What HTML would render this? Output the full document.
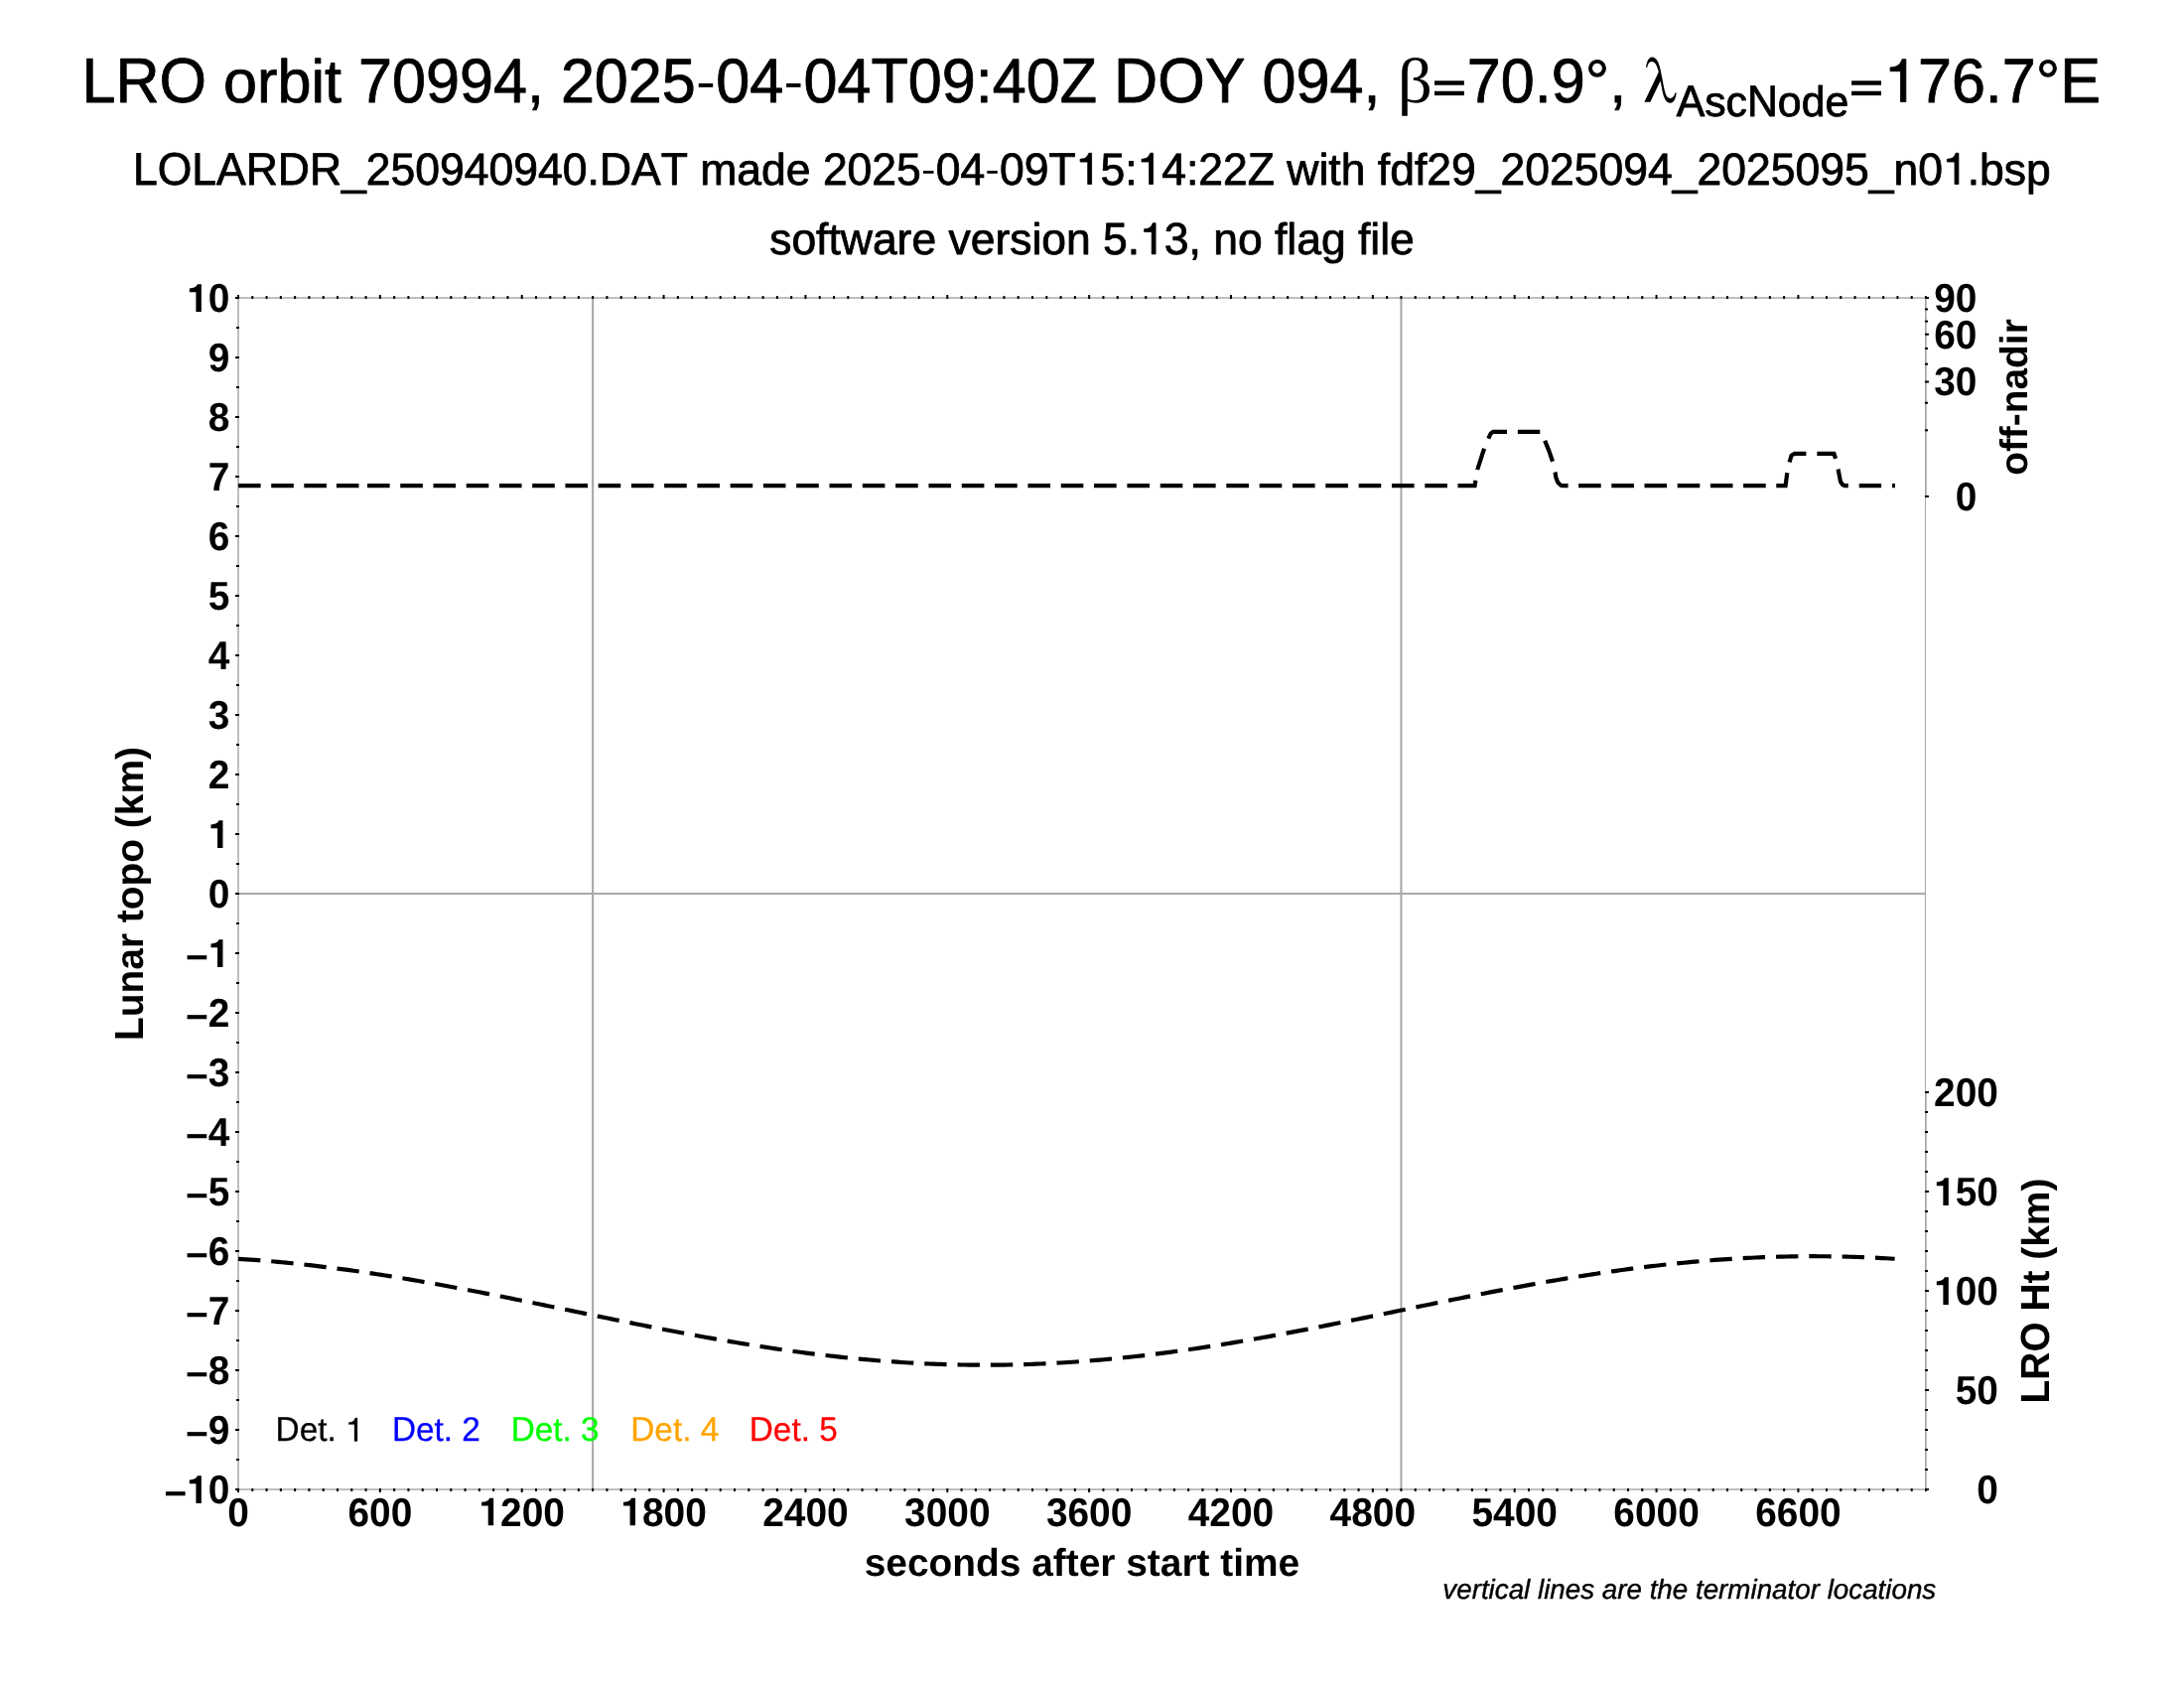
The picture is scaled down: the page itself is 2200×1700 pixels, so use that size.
<!DOCTYPE html>
<html><head><meta charset="utf-8"><title>LRO orbit 70994</title>
<style>html,body{margin:0;padding:0;background:#fff;}body{width:2200px;height:1700px;overflow:hidden;}svg{display:block;will-change:transform;}text{font-family:"Liberation Sans",sans-serif;text-rendering:geometricPrecision;font-kerning:none;white-space:pre;}.sym{font-family:"Liberation Serif",serif;}</style>
</head><body>
<svg width="2200" height="1700" viewBox="0 0 2200 1700">
<rect x="0" y="0" width="2200" height="1700" fill="#ffffff"/>
<g stroke="#a9a9a9" stroke-width="2.1" fill="none">
<line x1="240" y1="900" x2="1940" y2="900"/>
<line x1="597.14" y1="300" x2="597.14" y2="1500"/>
<line x1="1411.43" y1="300" x2="1411.43" y2="1500"/>
</g>
<path d="M1941,300H240V1500H1941M1940,300V500M1940,1100V1500" fill="none" stroke="#bebebe" stroke-width="2"/>
<rect x="1939" y="299" width="1" height="1202" fill="#a8a8a8"/>
<g fill="#000">
<rect x="239.00" y="297" width="2" height="4"/>
<rect x="239.00" y="1499" width="2" height="4"/>
<rect x="253.29" y="298" width="2" height="3"/>
<rect x="253.29" y="1499" width="2" height="3"/>
<rect x="267.57" y="298" width="2" height="3"/>
<rect x="267.57" y="1499" width="2" height="3"/>
<rect x="281.86" y="298" width="2" height="3"/>
<rect x="281.86" y="1499" width="2" height="3"/>
<rect x="296.14" y="298" width="2" height="3"/>
<rect x="296.14" y="1499" width="2" height="3"/>
<rect x="310.43" y="298" width="2" height="3"/>
<rect x="310.43" y="1499" width="2" height="3"/>
<rect x="324.71" y="298" width="2" height="3"/>
<rect x="324.71" y="1499" width="2" height="3"/>
<rect x="339.00" y="298" width="2" height="3"/>
<rect x="339.00" y="1499" width="2" height="3"/>
<rect x="353.29" y="298" width="2" height="3"/>
<rect x="353.29" y="1499" width="2" height="3"/>
<rect x="367.57" y="298" width="2" height="3"/>
<rect x="367.57" y="1499" width="2" height="3"/>
<rect x="381.86" y="297" width="2" height="4"/>
<rect x="381.86" y="1499" width="2" height="4"/>
<rect x="396.14" y="298" width="2" height="3"/>
<rect x="396.14" y="1499" width="2" height="3"/>
<rect x="410.43" y="298" width="2" height="3"/>
<rect x="410.43" y="1499" width="2" height="3"/>
<rect x="424.71" y="298" width="2" height="3"/>
<rect x="424.71" y="1499" width="2" height="3"/>
<rect x="439.00" y="298" width="2" height="3"/>
<rect x="439.00" y="1499" width="2" height="3"/>
<rect x="453.29" y="298" width="2" height="3"/>
<rect x="453.29" y="1499" width="2" height="3"/>
<rect x="467.57" y="298" width="2" height="3"/>
<rect x="467.57" y="1499" width="2" height="3"/>
<rect x="481.86" y="298" width="2" height="3"/>
<rect x="481.86" y="1499" width="2" height="3"/>
<rect x="496.14" y="298" width="2" height="3"/>
<rect x="496.14" y="1499" width="2" height="3"/>
<rect x="510.43" y="298" width="2" height="3"/>
<rect x="510.43" y="1499" width="2" height="3"/>
<rect x="524.71" y="297" width="2" height="4"/>
<rect x="524.71" y="1499" width="2" height="4"/>
<rect x="539.00" y="298" width="2" height="3"/>
<rect x="539.00" y="1499" width="2" height="3"/>
<rect x="553.29" y="298" width="2" height="3"/>
<rect x="553.29" y="1499" width="2" height="3"/>
<rect x="567.57" y="298" width="2" height="3"/>
<rect x="567.57" y="1499" width="2" height="3"/>
<rect x="581.86" y="298" width="2" height="3"/>
<rect x="581.86" y="1499" width="2" height="3"/>
<rect x="596.14" y="298" width="2" height="3"/>
<rect x="596.14" y="1499" width="2" height="3"/>
<rect x="610.43" y="298" width="2" height="3"/>
<rect x="610.43" y="1499" width="2" height="3"/>
<rect x="624.71" y="298" width="2" height="3"/>
<rect x="624.71" y="1499" width="2" height="3"/>
<rect x="639.00" y="298" width="2" height="3"/>
<rect x="639.00" y="1499" width="2" height="3"/>
<rect x="653.29" y="298" width="2" height="3"/>
<rect x="653.29" y="1499" width="2" height="3"/>
<rect x="667.57" y="297" width="2" height="4"/>
<rect x="667.57" y="1499" width="2" height="4"/>
<rect x="681.86" y="298" width="2" height="3"/>
<rect x="681.86" y="1499" width="2" height="3"/>
<rect x="696.14" y="298" width="2" height="3"/>
<rect x="696.14" y="1499" width="2" height="3"/>
<rect x="710.43" y="298" width="2" height="3"/>
<rect x="710.43" y="1499" width="2" height="3"/>
<rect x="724.71" y="298" width="2" height="3"/>
<rect x="724.71" y="1499" width="2" height="3"/>
<rect x="739.00" y="298" width="2" height="3"/>
<rect x="739.00" y="1499" width="2" height="3"/>
<rect x="753.29" y="298" width="2" height="3"/>
<rect x="753.29" y="1499" width="2" height="3"/>
<rect x="767.57" y="298" width="2" height="3"/>
<rect x="767.57" y="1499" width="2" height="3"/>
<rect x="781.86" y="298" width="2" height="3"/>
<rect x="781.86" y="1499" width="2" height="3"/>
<rect x="796.14" y="298" width="2" height="3"/>
<rect x="796.14" y="1499" width="2" height="3"/>
<rect x="810.43" y="297" width="2" height="4"/>
<rect x="810.43" y="1499" width="2" height="4"/>
<rect x="824.71" y="298" width="2" height="3"/>
<rect x="824.71" y="1499" width="2" height="3"/>
<rect x="839.00" y="298" width="2" height="3"/>
<rect x="839.00" y="1499" width="2" height="3"/>
<rect x="853.29" y="298" width="2" height="3"/>
<rect x="853.29" y="1499" width="2" height="3"/>
<rect x="867.57" y="298" width="2" height="3"/>
<rect x="867.57" y="1499" width="2" height="3"/>
<rect x="881.86" y="298" width="2" height="3"/>
<rect x="881.86" y="1499" width="2" height="3"/>
<rect x="896.14" y="298" width="2" height="3"/>
<rect x="896.14" y="1499" width="2" height="3"/>
<rect x="910.43" y="298" width="2" height="3"/>
<rect x="910.43" y="1499" width="2" height="3"/>
<rect x="924.71" y="298" width="2" height="3"/>
<rect x="924.71" y="1499" width="2" height="3"/>
<rect x="939.00" y="298" width="2" height="3"/>
<rect x="939.00" y="1499" width="2" height="3"/>
<rect x="953.29" y="297" width="2" height="4"/>
<rect x="953.29" y="1499" width="2" height="4"/>
<rect x="967.57" y="298" width="2" height="3"/>
<rect x="967.57" y="1499" width="2" height="3"/>
<rect x="981.86" y="298" width="2" height="3"/>
<rect x="981.86" y="1499" width="2" height="3"/>
<rect x="996.14" y="298" width="2" height="3"/>
<rect x="996.14" y="1499" width="2" height="3"/>
<rect x="1010.43" y="298" width="2" height="3"/>
<rect x="1010.43" y="1499" width="2" height="3"/>
<rect x="1024.71" y="298" width="2" height="3"/>
<rect x="1024.71" y="1499" width="2" height="3"/>
<rect x="1039.00" y="298" width="2" height="3"/>
<rect x="1039.00" y="1499" width="2" height="3"/>
<rect x="1053.29" y="298" width="2" height="3"/>
<rect x="1053.29" y="1499" width="2" height="3"/>
<rect x="1067.57" y="298" width="2" height="3"/>
<rect x="1067.57" y="1499" width="2" height="3"/>
<rect x="1081.86" y="298" width="2" height="3"/>
<rect x="1081.86" y="1499" width="2" height="3"/>
<rect x="1096.14" y="297" width="2" height="4"/>
<rect x="1096.14" y="1499" width="2" height="4"/>
<rect x="1110.43" y="298" width="2" height="3"/>
<rect x="1110.43" y="1499" width="2" height="3"/>
<rect x="1124.71" y="298" width="2" height="3"/>
<rect x="1124.71" y="1499" width="2" height="3"/>
<rect x="1139.00" y="298" width="2" height="3"/>
<rect x="1139.00" y="1499" width="2" height="3"/>
<rect x="1153.29" y="298" width="2" height="3"/>
<rect x="1153.29" y="1499" width="2" height="3"/>
<rect x="1167.57" y="298" width="2" height="3"/>
<rect x="1167.57" y="1499" width="2" height="3"/>
<rect x="1181.86" y="298" width="2" height="3"/>
<rect x="1181.86" y="1499" width="2" height="3"/>
<rect x="1196.14" y="298" width="2" height="3"/>
<rect x="1196.14" y="1499" width="2" height="3"/>
<rect x="1210.43" y="298" width="2" height="3"/>
<rect x="1210.43" y="1499" width="2" height="3"/>
<rect x="1224.71" y="298" width="2" height="3"/>
<rect x="1224.71" y="1499" width="2" height="3"/>
<rect x="1239.00" y="297" width="2" height="4"/>
<rect x="1239.00" y="1499" width="2" height="4"/>
<rect x="1253.29" y="298" width="2" height="3"/>
<rect x="1253.29" y="1499" width="2" height="3"/>
<rect x="1267.57" y="298" width="2" height="3"/>
<rect x="1267.57" y="1499" width="2" height="3"/>
<rect x="1281.86" y="298" width="2" height="3"/>
<rect x="1281.86" y="1499" width="2" height="3"/>
<rect x="1296.14" y="298" width="2" height="3"/>
<rect x="1296.14" y="1499" width="2" height="3"/>
<rect x="1310.43" y="298" width="2" height="3"/>
<rect x="1310.43" y="1499" width="2" height="3"/>
<rect x="1324.71" y="298" width="2" height="3"/>
<rect x="1324.71" y="1499" width="2" height="3"/>
<rect x="1339.00" y="298" width="2" height="3"/>
<rect x="1339.00" y="1499" width="2" height="3"/>
<rect x="1353.29" y="298" width="2" height="3"/>
<rect x="1353.29" y="1499" width="2" height="3"/>
<rect x="1367.57" y="298" width="2" height="3"/>
<rect x="1367.57" y="1499" width="2" height="3"/>
<rect x="1381.86" y="297" width="2" height="4"/>
<rect x="1381.86" y="1499" width="2" height="4"/>
<rect x="1396.14" y="298" width="2" height="3"/>
<rect x="1396.14" y="1499" width="2" height="3"/>
<rect x="1410.43" y="298" width="2" height="3"/>
<rect x="1410.43" y="1499" width="2" height="3"/>
<rect x="1424.71" y="298" width="2" height="3"/>
<rect x="1424.71" y="1499" width="2" height="3"/>
<rect x="1439.00" y="298" width="2" height="3"/>
<rect x="1439.00" y="1499" width="2" height="3"/>
<rect x="1453.29" y="298" width="2" height="3"/>
<rect x="1453.29" y="1499" width="2" height="3"/>
<rect x="1467.57" y="298" width="2" height="3"/>
<rect x="1467.57" y="1499" width="2" height="3"/>
<rect x="1481.86" y="298" width="2" height="3"/>
<rect x="1481.86" y="1499" width="2" height="3"/>
<rect x="1496.14" y="298" width="2" height="3"/>
<rect x="1496.14" y="1499" width="2" height="3"/>
<rect x="1510.43" y="298" width="2" height="3"/>
<rect x="1510.43" y="1499" width="2" height="3"/>
<rect x="1524.71" y="297" width="2" height="4"/>
<rect x="1524.71" y="1499" width="2" height="4"/>
<rect x="1539.00" y="298" width="2" height="3"/>
<rect x="1539.00" y="1499" width="2" height="3"/>
<rect x="1553.29" y="298" width="2" height="3"/>
<rect x="1553.29" y="1499" width="2" height="3"/>
<rect x="1567.57" y="298" width="2" height="3"/>
<rect x="1567.57" y="1499" width="2" height="3"/>
<rect x="1581.86" y="298" width="2" height="3"/>
<rect x="1581.86" y="1499" width="2" height="3"/>
<rect x="1596.14" y="298" width="2" height="3"/>
<rect x="1596.14" y="1499" width="2" height="3"/>
<rect x="1610.43" y="298" width="2" height="3"/>
<rect x="1610.43" y="1499" width="2" height="3"/>
<rect x="1624.71" y="298" width="2" height="3"/>
<rect x="1624.71" y="1499" width="2" height="3"/>
<rect x="1639.00" y="298" width="2" height="3"/>
<rect x="1639.00" y="1499" width="2" height="3"/>
<rect x="1653.29" y="298" width="2" height="3"/>
<rect x="1653.29" y="1499" width="2" height="3"/>
<rect x="1667.57" y="297" width="2" height="4"/>
<rect x="1667.57" y="1499" width="2" height="4"/>
<rect x="1681.86" y="298" width="2" height="3"/>
<rect x="1681.86" y="1499" width="2" height="3"/>
<rect x="1696.14" y="298" width="2" height="3"/>
<rect x="1696.14" y="1499" width="2" height="3"/>
<rect x="1710.43" y="298" width="2" height="3"/>
<rect x="1710.43" y="1499" width="2" height="3"/>
<rect x="1724.71" y="298" width="2" height="3"/>
<rect x="1724.71" y="1499" width="2" height="3"/>
<rect x="1739.00" y="298" width="2" height="3"/>
<rect x="1739.00" y="1499" width="2" height="3"/>
<rect x="1753.29" y="298" width="2" height="3"/>
<rect x="1753.29" y="1499" width="2" height="3"/>
<rect x="1767.57" y="298" width="2" height="3"/>
<rect x="1767.57" y="1499" width="2" height="3"/>
<rect x="1781.86" y="298" width="2" height="3"/>
<rect x="1781.86" y="1499" width="2" height="3"/>
<rect x="1796.14" y="298" width="2" height="3"/>
<rect x="1796.14" y="1499" width="2" height="3"/>
<rect x="1810.43" y="297" width="2" height="4"/>
<rect x="1810.43" y="1499" width="2" height="4"/>
<rect x="1824.71" y="298" width="2" height="3"/>
<rect x="1824.71" y="1499" width="2" height="3"/>
<rect x="1839.00" y="298" width="2" height="3"/>
<rect x="1839.00" y="1499" width="2" height="3"/>
<rect x="1853.29" y="298" width="2" height="3"/>
<rect x="1853.29" y="1499" width="2" height="3"/>
<rect x="1867.57" y="298" width="2" height="3"/>
<rect x="1867.57" y="1499" width="2" height="3"/>
<rect x="1881.86" y="298" width="2" height="3"/>
<rect x="1881.86" y="1499" width="2" height="3"/>
<rect x="1896.14" y="298" width="2" height="3"/>
<rect x="1896.14" y="1499" width="2" height="3"/>
<rect x="1910.43" y="298" width="2" height="3"/>
<rect x="1910.43" y="1499" width="2" height="3"/>
<rect x="1924.71" y="298" width="2" height="3"/>
<rect x="1924.71" y="1499" width="2" height="3"/>
<rect x="1939.00" y="298" width="2" height="3"/>
<rect x="1939.00" y="1499" width="2" height="3"/>
<rect x="237" y="299" width="4" height="2"/>
<rect x="238" y="329" width="3" height="2"/>
<rect x="237" y="359" width="4" height="2"/>
<rect x="238" y="389" width="3" height="2"/>
<rect x="237" y="419" width="4" height="2"/>
<rect x="238" y="449" width="3" height="2"/>
<rect x="237" y="479" width="4" height="2"/>
<rect x="238" y="509" width="3" height="2"/>
<rect x="237" y="539" width="4" height="2"/>
<rect x="238" y="569" width="3" height="2"/>
<rect x="237" y="599" width="4" height="2"/>
<rect x="238" y="629" width="3" height="2"/>
<rect x="237" y="659" width="4" height="2"/>
<rect x="238" y="689" width="3" height="2"/>
<rect x="237" y="719" width="4" height="2"/>
<rect x="238" y="749" width="3" height="2"/>
<rect x="237" y="779" width="4" height="2"/>
<rect x="238" y="809" width="3" height="2"/>
<rect x="237" y="839" width="4" height="2"/>
<rect x="238" y="869" width="3" height="2"/>
<rect x="237" y="899" width="4" height="2"/>
<rect x="238" y="929" width="3" height="2"/>
<rect x="237" y="959" width="4" height="2"/>
<rect x="238" y="989" width="3" height="2"/>
<rect x="237" y="1019" width="4" height="2"/>
<rect x="238" y="1049" width="3" height="2"/>
<rect x="237" y="1079" width="4" height="2"/>
<rect x="238" y="1109" width="3" height="2"/>
<rect x="237" y="1139" width="4" height="2"/>
<rect x="238" y="1169" width="3" height="2"/>
<rect x="237" y="1199" width="4" height="2"/>
<rect x="238" y="1229" width="3" height="2"/>
<rect x="237" y="1259" width="4" height="2"/>
<rect x="238" y="1289" width="3" height="2"/>
<rect x="237" y="1319" width="4" height="2"/>
<rect x="238" y="1349" width="3" height="2"/>
<rect x="237" y="1379" width="4" height="2"/>
<rect x="238" y="1409" width="3" height="2"/>
<rect x="237" y="1439" width="4" height="2"/>
<rect x="238" y="1469" width="3" height="2"/>
<rect x="237" y="1499" width="4" height="2"/>
<rect x="1939" y="499.00" width="4" height="2"/>
<rect x="1939" y="432.33" width="3" height="2"/>
<rect x="1939" y="404.72" width="3" height="2"/>
<rect x="1939" y="383.53" width="4" height="2"/>
<rect x="1939" y="365.67" width="3" height="2"/>
<rect x="1939" y="349.93" width="3" height="2"/>
<rect x="1939" y="335.70" width="4" height="2"/>
<rect x="1939" y="322.62" width="3" height="2"/>
<rect x="1939" y="310.44" width="3" height="2"/>
<rect x="1939" y="299.00" width="4" height="2"/>
<rect x="1939" y="1499.00" width="4" height="2"/>
<rect x="1939" y="1479.00" width="3" height="2"/>
<rect x="1939" y="1459.00" width="3" height="2"/>
<rect x="1939" y="1439.00" width="3" height="2"/>
<rect x="1939" y="1419.00" width="3" height="2"/>
<rect x="1939" y="1399.00" width="4" height="2"/>
<rect x="1939" y="1379.00" width="3" height="2"/>
<rect x="1939" y="1359.00" width="3" height="2"/>
<rect x="1939" y="1339.00" width="3" height="2"/>
<rect x="1939" y="1319.00" width="3" height="2"/>
<rect x="1939" y="1299.00" width="4" height="2"/>
<rect x="1939" y="1279.00" width="3" height="2"/>
<rect x="1939" y="1259.00" width="3" height="2"/>
<rect x="1939" y="1239.00" width="3" height="2"/>
<rect x="1939" y="1219.00" width="3" height="2"/>
<rect x="1939" y="1199.00" width="4" height="2"/>
<rect x="1939" y="1179.00" width="3" height="2"/>
<rect x="1939" y="1159.00" width="3" height="2"/>
<rect x="1939" y="1139.00" width="3" height="2"/>
<rect x="1939" y="1119.00" width="3" height="2"/>
<rect x="1939" y="1099.00" width="4" height="2"/>
</g>
<path d="M240,489.1h22.6 M273.2,489.1h22.6 M306.3,489.1h22.6 M338.9,489.1h22.6 M370,489.1h22.6 M403.24,489.1h22.6 M436.48,489.1h22.6 M469.71,489.1h22.6 M502.95,489.1h22.6 M536.19,489.1h22.6 M569.42,489.1h22.6 M602.66,489.1h22.6 M635.9,489.1h22.6 M669.14,489.1h22.6 M702.38,489.1h22.6 M735.61,489.1h22.6 M768.85,489.1h22.6 M802.17,489.1h22.6 M835.49,489.1h22.6 M868.81,489.1h22.6 M902.14,489.1h22.6 M935.46,489.1h22.6 M968.78,489.1h22.6 M1002.1,489.1h22.6 M1035.42,489.1h22.6 M1068.74,489.1h22.6 M1102.06,489.1h22.6 M1135.39,489.1h22.6 M1168.71,489.1h22.6 M1202.03,489.1h22.6 M1235.35,489.1h22.6 M1268.67,489.1h22.6 M1301.99,489.1h22.6 M1335.31,489.1h22.6 M1368.64,489.1h22.6 M1401.96,489.1h22.6 M1435.28,489.1h22.6" fill="none" stroke="#000" stroke-width="4.17"/>
<path d="M1468.5,489.1 L1485.6,489.1 L1486.5,483.3 L1488.4,472.4 L1495.1,451.75 L1499.6,440.85 L1501.7,436.6 L1504.1,434.9 L1552.6,434.9 L1556.5,444.6 L1560.5,454.6 L1564.1,465 L1566.7,476.6 L1567.4,481.1 L1569.3,485.9 L1572.1,488.7 L1574,489.1 L1585,489.1" fill="none" stroke="#000" stroke-width="4.17" stroke-dasharray="22.4 10.93" stroke-linejoin="miter"/>
<path d="M1590.1,489.1h22.6 M1623.3,489.1h22.6 M1656.5,489.1h22.6 M1689.7,489.1h22.6 M1722.9,489.1h22.6 M1756.1,489.1h22.6" fill="none" stroke="#000" stroke-width="4.17"/>
<path d="M1789.3,489.1 L1798.6,489.1 L1800.4,475.3 L1802.9,464.2 L1804.6,458.6 L1807.8,456.8 L1847.4,456.8 L1849.4,463 L1851.9,474.1 L1854,485.2 L1856.2,488.2 L1858.5,489.1 L1909,489.1" fill="none" stroke="#000" stroke-width="4.17" stroke-dasharray="22.4 10.93" stroke-linejoin="miter"/>
<path d="M240,1267.8 L244,1268.06 L248,1268.33 L252,1268.61 L256,1268.9 L260,1269.2 L264,1269.52 L268,1269.84 L272,1270.18 L276,1270.53 L280,1270.89 L284,1271.26 L288,1271.65 L292,1272.04 L296,1272.44 L300,1272.86 L304,1273.29 L308,1273.72 L312,1274.17 L316,1274.63 L320,1275.09 L324,1275.57 L328,1276.06 L332,1276.56 L336,1277.06 L340,1277.58 L344,1278.11 L348,1278.65 L352,1279.19 L356,1279.75 L360,1280.31 L364,1280.88 L368,1281.47 L372,1282.06 L376,1282.66 L380,1283.26 L384,1283.88 L388,1284.5 L392,1285.14 L396,1285.78 L400,1286.43 L404,1287.08 L408,1287.74 L412,1288.41 L416,1289.09 L420,1289.78 L424,1290.47 L428,1291.17 L432,1291.87 L436,1292.58 L440,1293.3 L444,1294.02 L448,1294.75 L452,1295.49 L456,1296.23 L460,1296.97 L464,1297.72 L468,1298.48 L472,1299.24 L476,1300 L480,1300.77 L484,1301.55 L488,1302.33 L492,1303.11 L496,1303.9 L500,1304.69 L504,1305.48 L508,1306.28 L512,1307.08 L516,1307.88 L520,1308.68 L524,1309.49 L528,1310.3 L532,1311.12 L536,1311.93 L540,1312.75 L544,1313.56 L548,1314.38 L552,1315.21 L556,1316.03 L560,1316.85 L564,1317.67 L568,1318.5 L572,1319.32 L576,1320.15 L580,1320.97 L584,1321.79 L588,1322.62 L592,1323.44 L596,1324.26 L600,1325.08 L604,1325.91 L608,1326.72 L612,1327.54 L616,1328.36 L620,1329.17 L624,1329.98 L628,1330.79 L632,1331.6 L636,1332.4 L640,1333.2 L644,1334 L648,1334.8 L652,1335.59 L656,1336.38 L660,1337.16 L664,1337.94 L668,1338.72 L672,1339.49 L676,1340.26 L680,1341.02 L684,1341.78 L688,1342.54 L692,1343.28 L696,1344.03 L700,1344.76 L704,1345.5 L708,1346.22 L712,1346.94 L716,1347.66 L720,1348.37 L724,1349.07 L728,1349.76 L732,1350.45 L736,1351.13 L740,1351.81 L744,1352.47 L748,1353.13 L752,1353.78 L756,1354.43 L760,1355.06 L764,1355.69 L768,1356.31 L772,1356.93 L776,1357.53 L780,1358.12 L784,1358.71 L788,1359.29 L792,1359.86 L796,1360.42 L800,1360.97 L804,1361.51 L808,1362.04 L812,1362.56 L816,1363.08 L820,1363.58 L824,1364.07 L828,1364.56 L832,1365.03 L836,1365.49 L840,1365.94 L844,1366.39 L848,1366.82 L852,1367.24 L856,1367.65 L860,1368.05 L864,1368.44 L868,1368.81 L872,1369.18 L876,1369.54 L880,1369.88 L884,1370.21 L888,1370.53 L892,1370.84 L896,1371.14 L900,1371.43 L904,1371.7 L908,1371.97 L912,1372.22 L916,1372.46 L920,1372.68 L924,1372.9 L928,1373.1 L932,1373.3 L936,1373.47 L940,1373.64 L944,1373.8 L948,1373.94 L952,1374.07 L956,1374.19 L960,1374.3 L964,1374.39 L968,1374.47 L972,1374.54 L976,1374.6 L980,1374.64 L984,1374.67 L988,1374.69 L992,1374.7 L996,1374.69 L1000,1374.68 L1004,1374.65 L1008,1374.6 L1012,1374.55 L1016,1374.48 L1020,1374.4 L1024,1374.31 L1028,1374.21 L1032,1374.09 L1036,1373.96 L1040,1373.82 L1044,1373.67 L1048,1373.5 L1052,1373.32 L1056,1373.13 L1060,1372.93 L1064,1372.72 L1068,1372.49 L1072,1372.25 L1076,1372 L1080,1371.74 L1084,1371.47 L1088,1371.19 L1092,1370.89 L1096,1370.58 L1100,1370.26 L1104,1369.93 L1108,1369.59 L1112,1369.23 L1116,1368.87 L1120,1368.49 L1124,1368.11 L1128,1367.71 L1132,1367.3 L1136,1366.88 L1140,1366.45 L1144,1366.01 L1148,1365.56 L1152,1365.1 L1156,1364.63 L1160,1364.15 L1164,1363.65 L1168,1363.15 L1172,1362.64 L1176,1362.12 L1180,1361.59 L1184,1361.05 L1188,1360.5 L1192,1359.94 L1196,1359.38 L1200,1358.8 L1204,1358.21 L1208,1357.62 L1212,1357.02 L1216,1356.41 L1220,1355.79 L1224,1355.16 L1228,1354.52 L1232,1353.88 L1236,1353.23 L1240,1352.57 L1244,1351.91 L1248,1351.23 L1252,1350.55 L1256,1349.87 L1260,1349.17 L1264,1348.47 L1268,1347.76 L1272,1347.05 L1276,1346.33 L1280,1345.61 L1284,1344.87 L1288,1344.14 L1292,1343.4 L1296,1342.65 L1300,1341.9 L1304,1341.14 L1308,1340.37 L1312,1339.61 L1316,1338.84 L1320,1338.06 L1324,1337.28 L1328,1336.5 L1332,1335.71 L1336,1334.92 L1340,1334.12 L1344,1333.32 L1348,1332.52 L1352,1331.72 L1356,1330.91 L1360,1330.1 L1364,1329.29 L1368,1328.48 L1372,1327.66 L1376,1326.85 L1380,1326.03 L1384,1325.21 L1388,1324.39 L1392,1323.56 L1396,1322.74 L1400,1321.92 L1404,1321.09 L1408,1320.27 L1412,1319.45 L1416,1318.62 L1420,1317.8 L1424,1316.97 L1428,1316.15 L1432,1315.33 L1436,1314.51 L1440,1313.69 L1444,1312.87 L1448,1312.05 L1452,1311.24 L1456,1310.42 L1460,1309.61 L1464,1308.81 L1468,1308 L1472,1307.2 L1476,1306.4 L1480,1305.6 L1484,1304.8 L1488,1304.01 L1492,1303.23 L1496,1302.44 L1500,1301.67 L1504,1300.89 L1508,1300.12 L1512,1299.35 L1516,1298.59 L1520,1297.84 L1524,1297.08 L1528,1296.34 L1532,1295.6 L1536,1294.86 L1540,1294.13 L1544,1293.41 L1548,1292.69 L1552,1291.98 L1556,1291.27 L1560,1290.57 L1564,1289.88 L1568,1289.19 L1572,1288.52 L1576,1287.84 L1580,1287.18 L1584,1286.52 L1588,1285.87 L1592,1285.23 L1596,1284.6 L1600,1283.97 L1604,1283.36 L1608,1282.75 L1612,1282.15 L1616,1281.55 L1620,1280.97 L1624,1280.4 L1628,1279.83 L1632,1279.27 L1636,1278.73 L1640,1278.19 L1644,1277.66 L1648,1277.14 L1652,1276.63 L1656,1276.13 L1660,1275.64 L1664,1275.16 L1668,1274.7 L1672,1274.24 L1676,1273.79 L1680,1273.35 L1684,1272.92 L1688,1272.51 L1692,1272.1 L1696,1271.7 L1700,1271.32 L1704,1270.95 L1708,1270.58 L1712,1270.23 L1716,1269.89 L1720,1269.57 L1724,1269.25 L1728,1268.94 L1732,1268.65 L1736,1268.37 L1740,1268.1 L1744,1267.84 L1748,1267.59 L1752,1267.36 L1756,1267.13 L1760,1266.92 L1764,1266.72 L1768,1266.54 L1772,1266.36 L1776,1266.2 L1780,1266.05 L1784,1265.91 L1788,1265.78 L1792,1265.67 L1796,1265.57 L1800,1265.48 L1804,1265.4 L1808,1265.34 L1812,1265.28 L1816,1265.25 L1820,1265.22 L1824,1265.2 L1828,1265.2 L1832,1265.21 L1836,1265.23 L1840,1265.27 L1844,1265.31 L1848,1265.37 L1852,1265.45 L1856,1265.53 L1860,1265.63 L1864,1265.74 L1868,1265.86 L1872,1265.99 L1876,1266.14 L1880,1266.29 L1884,1266.46 L1888,1266.65 L1892,1266.84 L1896,1267.05 L1900,1267.27 L1904,1267.5 L1908,1267.74 L1908.6,1267.78" fill="none" stroke="#000" stroke-width="4.17" stroke-dasharray="22.4 10.93" stroke-linejoin="round"/>
<g transform="translate(231.4,1513.9)">
<rect x="-64.45" y="-11.74" width="19.68" height="4.12"/>
<path transform="translate(-43.25,0.0) scale(0.03889,-0.03889)" d="M378,0H238V505H69V604C182,604 254,640 276,710H378Z" stroke-width="0"/>
<text transform="translate(-21.63,0) scale(1,1.04)" font-size="38.89" font-weight="bold">0</text>
</g>
<g transform="translate(231.4,1453.9)">
<rect x="-42.82" y="-11.74" width="19.68" height="4.12"/>
<text transform="translate(-21.63,0) scale(1,1.04)" font-size="38.89" font-weight="bold">9</text>
</g>
<g transform="translate(231.4,1393.9)">
<rect x="-42.82" y="-11.74" width="19.68" height="4.12"/>
<text transform="translate(-21.63,0) scale(1,1.04)" font-size="38.89" font-weight="bold">8</text>
</g>
<g transform="translate(231.4,1333.9)">
<rect x="-42.82" y="-11.74" width="19.68" height="4.12"/>
<text transform="translate(-21.63,0) scale(1,1.04)" font-size="38.89" font-weight="bold">7</text>
</g>
<g transform="translate(231.4,1273.9)">
<rect x="-42.82" y="-11.74" width="19.68" height="4.12"/>
<text transform="translate(-21.63,0) scale(1,1.04)" font-size="38.89" font-weight="bold">6</text>
</g>
<g transform="translate(231.4,1213.9)">
<rect x="-42.82" y="-11.74" width="19.68" height="4.12"/>
<text transform="translate(-21.63,0) scale(1,1.04)" font-size="38.89" font-weight="bold">5</text>
</g>
<g transform="translate(231.4,1153.9)">
<rect x="-42.82" y="-11.74" width="19.68" height="4.12"/>
<text transform="translate(-21.63,0) scale(1,1.04)" font-size="38.89" font-weight="bold">4</text>
</g>
<g transform="translate(231.4,1093.9)">
<rect x="-42.82" y="-11.74" width="19.68" height="4.12"/>
<text transform="translate(-21.63,0) scale(1,1.04)" font-size="38.89" font-weight="bold">3</text>
</g>
<g transform="translate(231.4,1033.9)">
<rect x="-42.82" y="-11.74" width="19.68" height="4.12"/>
<text transform="translate(-21.63,0) scale(1,1.04)" font-size="38.89" font-weight="bold">2</text>
</g>
<g transform="translate(231.4,973.9)">
<rect x="-42.82" y="-11.74" width="19.68" height="4.12"/>
<path transform="translate(-21.62,0.0) scale(0.03889,-0.03889)" d="M378,0H238V505H69V604C182,604 254,640 276,710H378Z" stroke-width="0"/>
</g>
<g transform="translate(231.4,913.9)">
<text transform="translate(-21.63,0) scale(1,1.04)" font-size="38.89" font-weight="bold">0</text>
</g>
<g transform="translate(231.4,853.9)">
<path transform="translate(-21.62,0.0) scale(0.03889,-0.03889)" d="M378,0H238V505H69V604C182,604 254,640 276,710H378Z" stroke-width="0"/>
</g>
<g transform="translate(231.4,793.9)">
<text transform="translate(-21.63,0) scale(1,1.04)" font-size="38.89" font-weight="bold">2</text>
</g>
<g transform="translate(231.4,733.9)">
<text transform="translate(-21.63,0) scale(1,1.04)" font-size="38.89" font-weight="bold">3</text>
</g>
<g transform="translate(231.4,673.9)">
<text transform="translate(-21.63,0) scale(1,1.04)" font-size="38.89" font-weight="bold">4</text>
</g>
<g transform="translate(231.4,613.9)">
<text transform="translate(-21.63,0) scale(1,1.04)" font-size="38.89" font-weight="bold">5</text>
</g>
<g transform="translate(231.4,553.9)">
<text transform="translate(-21.63,0) scale(1,1.04)" font-size="38.89" font-weight="bold">6</text>
</g>
<g transform="translate(231.4,493.9)">
<text transform="translate(-21.63,0) scale(1,1.04)" font-size="38.89" font-weight="bold">7</text>
</g>
<g transform="translate(231.4,433.9)">
<text transform="translate(-21.63,0) scale(1,1.04)" font-size="38.89" font-weight="bold">8</text>
</g>
<g transform="translate(231.4,373.9)">
<text transform="translate(-21.63,0) scale(1,1.04)" font-size="38.89" font-weight="bold">9</text>
</g>
<g transform="translate(231.4,313.9)">
<path transform="translate(-43.25,0.0) scale(0.03889,-0.03889)" d="M378,0H238V505H69V604C182,604 254,640 276,710H378Z" stroke-width="0"/>
<text transform="translate(-21.63,0) scale(1,1.04)" font-size="38.89" font-weight="bold">0</text>
</g>
<g transform="translate(240,1536.75)">
<text transform="translate(-10.81,0) scale(1,1.04)" font-size="38.89" font-weight="bold">0</text>
</g>
<g transform="translate(382.86,1536.75)">
<text transform="translate(-32.44,0) scale(1,1.04)" font-size="38.89" font-weight="bold">600</text>
</g>
<g transform="translate(525.71,1536.75)">
<path transform="translate(-43.25,-0.5) scale(0.03889,-0.03889)" d="M378,0H238V505H69V604C182,604 254,640 276,710H378Z" stroke-width="0"/>
<text transform="translate(-21.63,0) scale(1,1.04)" font-size="38.89" font-weight="bold">200</text>
</g>
<g transform="translate(668.57,1536.75)">
<path transform="translate(-43.25,-0.5) scale(0.03889,-0.03889)" d="M378,0H238V505H69V604C182,604 254,640 276,710H378Z" stroke-width="0"/>
<text transform="translate(-21.63,0) scale(1,1.04)" font-size="38.89" font-weight="bold">800</text>
</g>
<g transform="translate(811.43,1536.75)">
<text transform="translate(-43.26,0) scale(1,1.04)" font-size="38.89" font-weight="bold">2400</text>
</g>
<g transform="translate(954.29,1536.75)">
<text transform="translate(-43.26,0) scale(1,1.04)" font-size="38.89" font-weight="bold">3000</text>
</g>
<g transform="translate(1097.14,1536.75)">
<text transform="translate(-43.26,0) scale(1,1.04)" font-size="38.89" font-weight="bold">3600</text>
</g>
<g transform="translate(1240,1536.75)">
<text transform="translate(-43.26,0) scale(1,1.04)" font-size="38.89" font-weight="bold">4200</text>
</g>
<g transform="translate(1382.86,1536.75)">
<text transform="translate(-43.26,0) scale(1,1.04)" font-size="38.89" font-weight="bold">4800</text>
</g>
<g transform="translate(1525.71,1536.75)">
<text transform="translate(-43.26,0) scale(1,1.04)" font-size="38.89" font-weight="bold">5400</text>
</g>
<g transform="translate(1668.57,1536.75)">
<text transform="translate(-43.26,0) scale(1,1.04)" font-size="38.89" font-weight="bold">6000</text>
</g>
<g transform="translate(1811.43,1536.75)">
<text transform="translate(-43.26,0) scale(1,1.04)" font-size="38.89" font-weight="bold">6600</text>
</g>
<g transform="translate(1991.4,513.9)">
<text transform="translate(-21.63,0) scale(1,1.04)" font-size="38.89" font-weight="bold">0</text>
</g>
<g transform="translate(1991.4,398.43)">
<text transform="translate(-43.26,0) scale(1,1.04)" font-size="38.89" font-weight="bold">30</text>
</g>
<g transform="translate(1991.4,350.6)">
<text transform="translate(-43.26,0) scale(1,1.04)" font-size="38.89" font-weight="bold">60</text>
</g>
<g transform="translate(1991.4,313.9)">
<text transform="translate(-43.26,0) scale(1,1.04)" font-size="38.89" font-weight="bold">90</text>
</g>
<g transform="translate(2013,1513.9)">
<text transform="translate(-21.63,0) scale(1,1.04)" font-size="38.89" font-weight="bold">0</text>
</g>
<g transform="translate(2013,1413.9)">
<text transform="translate(-43.26,0) scale(1,1.04)" font-size="38.89" font-weight="bold">50</text>
</g>
<g transform="translate(2013,1313.9)">
<path transform="translate(-64.88,0.0) scale(0.03889,-0.03889)" d="M378,0H238V505H69V604C182,604 254,640 276,710H378Z" stroke-width="0"/>
<text transform="translate(-43.26,0) scale(1,1.04)" font-size="38.89" font-weight="bold">00</text>
</g>
<g transform="translate(2013,1213.9)">
<path transform="translate(-64.88,0.0) scale(0.03889,-0.03889)" d="M378,0H238V505H69V604C182,604 254,640 276,710H378Z" stroke-width="0"/>
<text transform="translate(-43.26,0) scale(1,1.04)" font-size="38.89" font-weight="bold">50</text>
</g>
<g transform="translate(2013,1113.9)">
<text transform="translate(-64.89,0) scale(1,1.04)" font-size="38.89" font-weight="bold">200</text>
</g>
<g transform="translate(1090,1586.9)">
<text x="-219.37" y="0" font-size="38.89" font-weight="bold">seconds after start time</text>
</g>
<g transform="translate(144.3,900) rotate(-90)">
<text transform="translate(-147.98,0) scale(1,1.05)" font-size="38.89" font-weight="bold">L</text>
<text x="-124.23" y="0" font-size="38.89" font-weight="bold">unar topo (km)</text>
</g>
<g transform="translate(2042.4,400) rotate(-90)">
<text x="-78.84" y="0" font-size="38.89" font-weight="bold">off-nadir</text>
</g>
<g transform="translate(2063.8,1300) rotate(-90)">
<text transform="translate(-113.42,0) scale(1,1.05)" font-size="38.89" font-weight="bold">LRO</text>
<text x="-31.33" y="0" font-size="38.89" font-weight="bold"> </text>
<text transform="translate(-20.53,0) scale(1,1.05)" font-size="38.89" font-weight="bold">H</text>
<text x="7.56" y="0" font-size="38.89" font-weight="bold">t (km)</text>
</g>
<g transform="translate(277.6,1451.4)" stroke="#000" stroke-width="0.3" stroke-linejoin="round">
<text transform="translate(0,0) scale(1,1.04)" font-size="33.33">D</text>
<text x="24.07" y="0" font-size="33.33">et. </text>
<path transform="translate(70.39,0) scale(0.03333,-0.03333)" d="M359,0H271V505H101V568C200,573 262,600 295,703H359Z" stroke-width="9"/>
</g>
<g transform="translate(394.9,1451.4)" fill="#0000ff" stroke="#0000ff" stroke-width="0.3" stroke-linejoin="round">
<text transform="translate(0,0) scale(1,1.04)" font-size="33.33">D</text>
<text x="24.07" y="0" font-size="33.33">et. </text>
<text transform="translate(70.39,0) scale(1,1.025)" font-size="33.33">2</text>
</g>
<g transform="translate(514.7,1451.4)" fill="#00ff00" stroke="#00ff00" stroke-width="0.3" stroke-linejoin="round">
<text transform="translate(0,0) scale(1,1.04)" font-size="33.33">D</text>
<text x="24.07" y="0" font-size="33.33">et. </text>
<text transform="translate(70.39,0) scale(1,1.025)" font-size="33.33">3</text>
</g>
<g transform="translate(635.3,1451.4)" fill="#ffa500" stroke="#ffa500" stroke-width="0.3" stroke-linejoin="round">
<text transform="translate(0,0) scale(1,1.04)" font-size="33.33">D</text>
<text x="24.07" y="0" font-size="33.33">et. </text>
<text transform="translate(70.39,0) scale(1,1.025)" font-size="33.33">4</text>
</g>
<g transform="translate(754.8,1451.4)" fill="#ff0000" stroke="#ff0000" stroke-width="0.3" stroke-linejoin="round">
<text transform="translate(0,0) scale(1,1.04)" font-size="33.33">D</text>
<text x="24.07" y="0" font-size="33.33">et. </text>
<text transform="translate(70.39,0) scale(1,1.025)" font-size="33.33">5</text>
</g>
<g transform="translate(1950.5,1609.6)" stroke="#000" stroke-width="0.4" stroke-linejoin="round">
<text x="-497.18" y="0" font-size="27.78" font-style="italic">vertical lines are the terminator locations</text>
</g>
<g transform="translate(82.5,102.6)" stroke="#000" stroke-width="0.8" stroke-linejoin="round">
<text transform="translate(0,0) scale(1,1.045)" font-size="61.11">LRO</text>
<text x="125.65" y="0" font-size="61.11"> orbit </text>
<text transform="translate(278.49,0) scale(1,1.03)" font-size="61.11">70994</text>
<text x="448.42" y="0" font-size="61.11">, </text>
<text transform="translate(482.38,0) scale(1,1.03)" font-size="61.11">2025</text>
<rect x="621.25" y="-18.64" width="14.42" height="3.91" stroke="none"/>
<text transform="translate(638.67,0) scale(1,1.03)" font-size="61.11">04</text>
<rect x="709.58" y="-18.64" width="14.42" height="3.91" stroke="none"/>
<text transform="translate(726.99,0) scale(1,1.03)" font-size="61.11">04</text>
<text transform="translate(794.97,0) scale(1,1.045)" font-size="61.11">T</text>
<text transform="translate(832.29,0) scale(1,1.03)" font-size="61.11">09</text>
<text x="900.27" y="0" font-size="61.11">:</text>
<text transform="translate(917.25,0) scale(1,1.03)" font-size="61.11">40</text>
<text transform="translate(985.22,0) scale(1,1.045)" font-size="61.11">Z</text>
<text x="1022.55" y="0" font-size="61.11"> </text>
<text transform="translate(1039.53,0) scale(1,1.045)" font-size="61.11">DOY</text>
<text x="1171.95" y="0" font-size="61.11"> </text>
<text transform="translate(1188.93,0) scale(1,1.03)" font-size="61.11">094</text>
<text x="1290.89" y="0" font-size="61.11">, </text>
</g>
<text class="sym" transform="translate(1407.75,102.8) scale(1.078,1)" font-size="64">β</text>
<g transform="translate(1442.09,102.6)" stroke="#000" stroke-width="0.8" stroke-linejoin="round">
<rect x="2.87" y="-10.82" width="29.88" height="4.34" stroke="none"/>
<rect x="2.87" y="-21.27" width="29.88" height="4.4" stroke="none"/>
<text transform="translate(35.69,0) scale(1,1.03)" font-size="61.11">70</text>
<text x="103.66" y="0" font-size="61.11">.</text>
<text transform="translate(120.64,0) scale(1,1.03)" font-size="61.11">9</text>
<text x="154.63" y="0" font-size="61.11">°, </text>
</g>
<path transform="translate(1640,40) scale(0.053305)" d="M340,525C345,430 385,332 455,330C535,330 580,430 605,540C640,690 670,880 700,995C722,1075 755,1105 800,1105C850,1105 880,1050 890,1000L912,1003C905,1110 865,1195 795,1195C720,1195 680,1110 655,1000C635,910 622,830 610,780L420,1178L308,1178L578,612C560,520 520,412 445,412C395,412 370,470 362,525Z" fill="#000"/>
<g transform="translate(1688.66,117)" stroke="#000" stroke-width="0.8" stroke-linejoin="round">
<text transform="translate(0,0) scale(1,1.04)" font-size="42.78">A</text>
<text x="28.53" y="0" font-size="42.78">sc</text>
<text transform="translate(71.31,0) scale(1,1.04)" font-size="42.78">N</text>
<text x="102.2" y="0" font-size="42.78">ode</text>
</g>
<g transform="translate(1862.24,102.6)" stroke="#000" stroke-width="0.8" stroke-linejoin="round">
<rect x="2.87" y="-10.82" width="29.88" height="4.34" stroke="none"/>
<rect x="2.87" y="-21.27" width="29.88" height="4.4" stroke="none"/>
<path transform="translate(35.69,0) scale(0.06111,-0.06111)" d="M359,0H271V505H101V568C200,573 262,600 295,703H359Z" stroke-width="13.09"/>
<text transform="translate(69.67,0) scale(1,1.03)" font-size="61.11">76</text>
<text x="137.64" y="0" font-size="61.11">.</text>
<text transform="translate(154.62,0) scale(1,1.03)" font-size="61.11">7</text>
<text x="188.6" y="0" font-size="61.11">°</text>
<text transform="translate(213.04,0) scale(1,1.045)" font-size="61.11">E</text>
</g>
<g transform="translate(1099.85,185.5)" stroke="#000" stroke-width="0.8" stroke-linejoin="round">
<text transform="translate(-965.95,0) scale(1,1.035)" font-size="44.49">LOLARDR</text>
<text x="-755.78" y="0" font-size="44.49">_</text>
<text transform="translate(-731.04,0) scale(1,1.02)" font-size="44.49">250940940</text>
<text x="-508.34" y="0" font-size="44.49">.</text>
<text transform="translate(-495.97,0) scale(1,1.035)" font-size="44.49">DAT</text>
<text x="-406.99" y="0" font-size="44.49"> made </text>
<text transform="translate(-270.97,0) scale(1,1.02)" font-size="44.49">2025</text>
<rect x="-169.85" y="-13.57" width="10.5" height="2.85" stroke="none"/>
<text transform="translate(-157.17,0) scale(1,1.02)" font-size="44.49">04</text>
<rect x="-105.55" y="-13.57" width="10.5" height="2.85" stroke="none"/>
<text transform="translate(-92.86,0) scale(1,1.02)" font-size="44.49">09</text>
<text transform="translate(-43.38,0) scale(1,1.035)" font-size="44.49">T</text>
<path transform="translate(-16.2,0) scale(0.04449,-0.04449)" d="M359,0H271V505H101V568C200,573 262,600 295,703H359Z" stroke-width="17.98"/>
<text transform="translate(8.54,0) scale(1,1.02)" font-size="44.49">5</text>
<text x="33.29" y="0" font-size="44.49">:</text>
<path transform="translate(45.65,0) scale(0.04449,-0.04449)" d="M359,0H271V505H101V568C200,573 262,600 295,703H359Z" stroke-width="17.98"/>
<text transform="translate(70.39,0) scale(1,1.02)" font-size="44.49">4</text>
<text x="95.13" y="0" font-size="44.49">:</text>
<text transform="translate(107.49,0) scale(1,1.02)" font-size="44.49">22</text>
<text transform="translate(156.98,0) scale(1,1.035)" font-size="44.49">Z</text>
<text x="184.16" y="0" font-size="44.49"> with fdf</text>
<text transform="translate(337.47,0) scale(1,1.02)" font-size="44.49">29</text>
<text x="386.96" y="0" font-size="44.49">_</text>
<text transform="translate(411.71,0) scale(1,1.02)" font-size="44.49">2025094</text>
<text x="584.92" y="0" font-size="44.49">_</text>
<text transform="translate(609.67,0) scale(1,1.02)" font-size="44.49">2025095</text>
<text x="782.88" y="0" font-size="44.49">_n</text>
<text transform="translate(832.37,0) scale(1,1.02)" font-size="44.49">0</text>
<path transform="translate(857.12,0) scale(0.04449,-0.04449)" d="M359,0H271V505H101V568C200,573 262,600 295,703H359Z" stroke-width="17.98"/>
<text x="881.85" y="0" font-size="44.49">.bsp</text>
</g>
<g transform="translate(1100,255.9)" stroke="#000" stroke-width="0.8" stroke-linejoin="round">
<text x="-324.83" y="0" font-size="44.44">software version </text>
<text transform="translate(11.07,0) scale(1,1.02)" font-size="44.44">5</text>
<text x="35.79" y="0" font-size="44.44">.</text>
<path transform="translate(48.13,0) scale(0.04444,-0.04444)" d="M359,0H271V505H101V568C200,573 262,600 295,703H359Z" stroke-width="18"/>
<text transform="translate(72.84,0) scale(1,1.02)" font-size="44.44">3</text>
<text x="97.56" y="0" font-size="44.44">, no flag file</text>
</g>
</svg></body></html>
